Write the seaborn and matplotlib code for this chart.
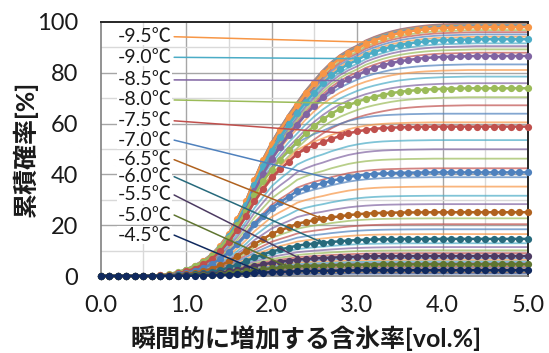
import numpy as np
import pandas as pd
import matplotlib
matplotlib.use("Agg")
import matplotlib.pyplot as plt
import seaborn as sns

# ---------------- data ----------------
x_vals = [round(0.1 * i, 1) for i in range(51)]  # 0.0 ... 5.0

# normalized rise profiles (orange top curve, green mid, blue/brown low)
profile_top = [0, 0, 0, 0, 0, 0, 0, 0.002, 0.006, 0.014,
               0.025, 0.04, 0.06, 0.085, 0.12, 0.17, 0.23, 0.30, 0.385, 0.465,
               0.53, 0.587, 0.64, 0.688, 0.735, 0.775, 0.814, 0.847, 0.874, 0.895,
               0.912, 0.932, 0.946, 0.958, 0.968, 0.976, 0.982, 0.987, 0.991, 0.994,
               0.996, 0.997, 0.998, 0.999, 1, 1, 1, 1, 1, 1, 1]
profile_mid = [0, 0, 0, 0, 0, 0, 0.001, 0.004, 0.01, 0.02,
               0.033, 0.052, 0.075, 0.105, 0.15, 0.205, 0.27, 0.345, 0.43, 0.505,
               0.565, 0.62, 0.67, 0.715, 0.76, 0.8, 0.835, 0.865, 0.89, 0.91,
               0.928, 0.943, 0.955, 0.965, 0.974, 0.981, 0.986, 0.99, 0.993, 0.995,
               0.997, 0.998, 0.999, 1, 1, 1, 1, 1, 1, 1, 1]
profile_low = [0, 0, 0, 0, 0, 0, 0.001, 0.004, 0.009, 0.018,
               0.031, 0.05, 0.078, 0.115, 0.165, 0.23, 0.31, 0.40, 0.50, 0.58,
               0.66, 0.715, 0.765, 0.82, 0.85, 0.875, 0.895, 0.918, 0.937, 0.955,
               0.968, 0.978, 0.985, 0.99, 0.993, 0.995, 0.997, 0.998, 0.999, 1,
               1, 1, 1, 1, 1, 1, 1, 1, 1, 1, 1]

# temperatures -4.0 ... -10.0 (0.1 step) and their plateau levels [%]
temps = [round(-4.0 - 0.1 * i, 1) for i in range(61)]
plateaus = [0.9, 1.1, 1.4, 1.7, 2.0, 2.3, 2.7, 3.1, 3.6, 4.1,
            4.6, 5.1, 5.7, 6.3, 7.1, 7.9, 9.0, 10.1, 11.4, 12.9,
            14.6, 16.5, 18.4, 20.4, 22.7, 25.1, 28.3, 31.6, 35.2, 38.9,
            40.8, 42.4, 46.2, 49.9, 53.5, 58.8, 60.5, 63.9, 67.2, 70.4,
            73.9, 75.9, 78.5, 81.1, 83.3, 86.6, 87.9, 89.2, 90.5, 91.6,
            93.2, 94.2, 95.1, 96.0, 96.8, 98.0, 98.4, 98.8, 99.1, 99.3, 99.5]

# labelled series
marked_temps = [-9.5, -9.0, -8.5, -8.0, -7.5, -7.0, -6.5, -6.0, -5.5, -5.0, -4.5]
marked_labels = ["-9.5℃", "-9.0℃", "-8.5℃", "-8.0℃", "-7.5℃", "-7.0℃",
                 "-6.5℃", "-6.0℃", "-5.5℃", "-5.0℃", "-4.5℃"]

# ---------------- styles / positions ----------------
marked_colors = ["#F79646", "#4BACC6", "#8064A2", "#9BBB59", "#C0504D", "#4F81BD",
                 "#B0621F", "#276A7C", "#4D3B62", "#5F7530", "#10295E"]
thin_cycle = ["#4F81BD", "#C0504D", "#9BBB59", "#8064A2", "#4BACC6", "#F79646"]
label_y = [94.2, 86.1, 77.2, 69.3, 61.1, 53.5, 45.8, 39.1, 31.9, 24.0, 16.1]
leader_end_x = [3.15, 3.03, 2.87, 2.95, 2.9, 2.75, 2.6, 2.6, 2.35, 2.2, 1.9]


def profile_for(a):
    if a >= 85:
        return profile_top
    if a >= 65:
        return profile_mid
    return profile_low


rows = []
for t, a in zip(temps, plateaus):
    prof = profile_for(a)
    for xv, pv in zip(x_vals, prof):
        rows.append({"temp": t, "x": xv, "y": a * pv})
df = pd.DataFrame(rows)

sns.set_style("white")
plt.rcParams["font.family"] = ["Lato", "Noto Sans CJK JP", "DejaVu Sans"]

fig = plt.figure(figsize=(5.49, 3.53), dpi=100)
ax = fig.add_axes([0.1833, 0.2181, 0.7784, 0.7196])

# grid
for xv in np.arange(0.5, 5.0, 1.0):
    ax.axvline(xv, color="#D9D9D9", lw=1.0, zorder=0)
for xv in np.arange(1.0, 5.0, 1.0):
    ax.axvline(xv, color="#A6A6A6", lw=1.0, zorder=0)
for yv in np.arange(10, 100, 20):
    ax.axhline(yv, color="#D9D9D9", lw=1.0, zorder=0)
for yv in np.arange(20, 100, 20):
    ax.axhline(yv, color="#A6A6A6", lw=1.0, zorder=0)

# thin curves
thin_temps = [t for t in temps if t not in marked_temps]
thin_pal = {t: thin_cycle[i % len(thin_cycle)] for i, t in enumerate(thin_temps)}
sns.lineplot(data=df[df["temp"].isin(thin_temps)], x="x", y="y", hue="temp",
             palette=thin_pal, legend=False, lw=1.3, alpha=0.7, ax=ax,
             estimator=None, sort=True, zorder=2)

# marked curves
for t, c in zip(marked_temps, marked_colors):
    sub = df[df["temp"] == t]
    sns.lineplot(data=sub, x="x", y="y", color=c, lw=1.8, marker="o",
                 markersize=5.2, markeredgewidth=0, ax=ax, estimator=None,
                 legend=False, zorder=3, clip_on=False)

# labels with leader lines
for t, lab, c, ly, ex in zip(marked_temps, marked_labels, marked_colors, label_y, leader_end_x):
    sub = df[df["temp"] == t]
    ey = np.interp(ex, sub["x"].values, sub["y"].values)
    ax.annotate("", xy=(ex, ey), xytext=(0.86, ly),
                arrowprops=dict(arrowstyle="-|>", color=c, lw=1.1,
                                mutation_scale=5, shrinkA=0, shrinkB=0),
                zorder=4)
    ax.text(0.83, ly, lab, ha="right", va="center", fontsize=14,
            color="#1a1a1a", zorder=5,
            bbox=dict(facecolor="white", edgecolor="none", pad=0.2))

ax.set_xlim(0, 5)
ax.set_ylim(0, 100)
ax.set_xticks(np.arange(0, 5.01, 1.0))
ax.set_xticklabels([f"{v:.1f}" for v in np.arange(0, 5.01, 1.0)])
ax.set_yticks(np.arange(0, 101, 20))
ax.tick_params(axis="x", length=0, labelsize=17, pad=14, colors="#1a1a1a")
ax.tick_params(axis="y", length=0, labelsize=17, pad=16, colors="#1a1a1a")
ax.set_xlabel("")
ax.set_ylabel("")

for s in ["top", "right"]:
    ax.spines[s].set_color("#262626")
    ax.spines[s].set_linewidth(1.4)
for s in ["left", "bottom"]:
    ax.spines[s].set_color("#808080")
    ax.spines[s].set_linewidth(1.2)

fig.text(0.558, 0.043, "瞬間的に増加する含氷率[vol.%]", ha="center", va="center",
         fontsize=18, fontweight="bold", color="#1a1a1a")
fig.text(0.046, 0.578, "累積確率[%]", ha="center", va="center", rotation=90,
         fontsize=18, fontweight="bold", color="#1a1a1a")

fig.savefig("out.png", dpi=100)
